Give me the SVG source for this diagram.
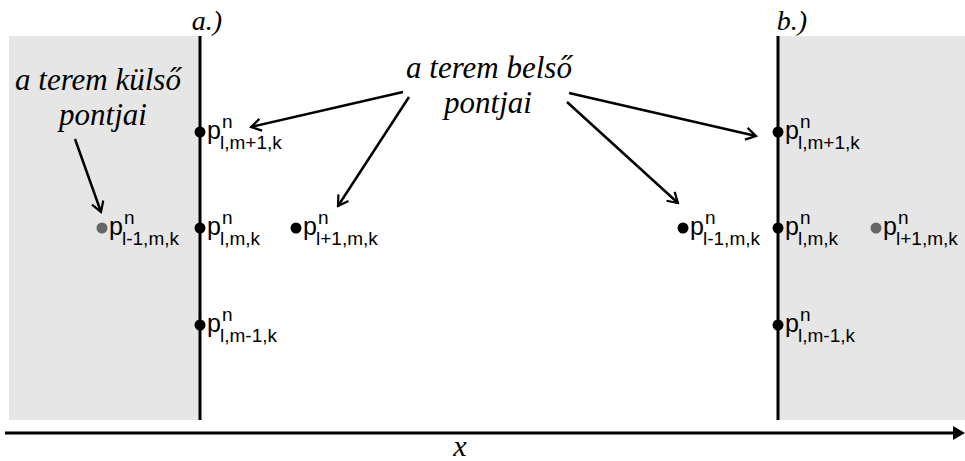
<svg xmlns="http://www.w3.org/2000/svg" width="965" height="461" viewBox="0 0 965 461">
<style>
.bg{fill:#e6e6e6}
.wall{stroke:#000;stroke-width:3}
.it{font-family:'Liberation Serif','Times New Roman','DejaVu Serif',serif;font-style:italic;fill:#000}
.lab{font-family:'Liberation Sans',Arial,sans-serif;fill:#000}
.p{font-size:25px}
.sup{font-size:19px}
.sub{font-size:19px}
.dot{fill:#000}
.gdot{fill:#666}
.con{stroke:#000;stroke-width:2.5;fill:none}
</style>
<defs>
<marker id="vh" markerWidth="14" markerHeight="14" refX="12" refY="7" orient="auto" markerUnits="userSpaceOnUse">
<path d="M2,1 L12,7 L2,13" fill="none" stroke="#000" stroke-width="2.2"/>
</marker>
</defs>
<rect class="bg" x="9" y="36" width="191" height="384"/>
<rect class="bg" x="778" y="36" width="187" height="384"/>
<line class="wall" x1="200" y1="36" x2="200" y2="420"/>
<line class="wall" x1="778" y1="36" x2="778" y2="420"/>
<g id="axis">
<line x1="5" y1="433" x2="954" y2="433" stroke="#000" stroke-width="3"/>
<path d="M953,426 L965,433 L953,440 Z" fill="#000"/>
<text class="it" x="460" y="456" font-size="30" text-anchor="middle">x</text>
</g>
<text class="it" x="207" y="30" font-size="28" text-anchor="middle">a.)</text>
<text class="it" x="792" y="30" font-size="28" text-anchor="middle">b.)</text>
<g id="outer-label">
<text class="it" x="98" y="90" font-size="31" text-anchor="middle">a terem külső</text>
<text class="it" x="103" y="125" font-size="31" text-anchor="middle">pontjai</text>
</g>
<g id="inner-label">
<text class="it" x="489" y="78" font-size="31" text-anchor="middle">a terem belső</text>
<text class="it" x="488" y="113" font-size="31" text-anchor="middle">pontjai</text>
</g>
<g id="a-top"><circle class="dot" cx="200" cy="132" r="5.5"/><text class="lab p" x="207" y="139">p</text><text class="lab sup" x="222" y="128">n</text><text class="lab sub" x="220" y="149">l,m+1,k</text></g>
<g id="a-mid"><circle class="dot" cx="200" cy="228" r="5.5"/><text class="lab p" x="207" y="235">p</text><text class="lab sup" x="222" y="224">n</text><text class="lab sub" x="220" y="245">l,m,k</text></g>
<g id="a-bot"><circle class="dot" cx="200" cy="325" r="5.5"/><text class="lab p" x="207" y="332">p</text><text class="lab sup" x="222" y="321">n</text><text class="lab sub" x="220" y="342">l,m-1,k</text></g>
<g id="a-out"><circle class="gdot" cx="102" cy="228" r="5.5"/><text class="lab p" x="109" y="235">p</text><text class="lab sup" x="124" y="224">n</text><text class="lab sub" x="122" y="245">l-1,m,k</text></g>
<g id="a-in"><circle class="dot" cx="296" cy="228" r="5.5"/><text class="lab p" x="303" y="235">p</text><text class="lab sup" x="318" y="224">n</text><text class="lab sub" x="316" y="245">l+1,m,k</text></g>
<g id="b-top"><circle class="dot" cx="778" cy="132" r="5.5"/><text class="lab p" x="785" y="139">p</text><text class="lab sup" x="800" y="128">n</text><text class="lab sub" x="798" y="149">l,m+1,k</text></g>
<g id="b-mid"><circle class="dot" cx="778" cy="228" r="5.5"/><text class="lab p" x="785" y="235">p</text><text class="lab sup" x="800" y="224">n</text><text class="lab sub" x="798" y="245">l,m,k</text></g>
<g id="b-bot"><circle class="dot" cx="778" cy="325" r="5.5"/><text class="lab p" x="785" y="332">p</text><text class="lab sup" x="800" y="321">n</text><text class="lab sub" x="798" y="342">l,m-1,k</text></g>
<g id="b-in"><circle class="dot" cx="683" cy="228" r="5.5"/><text class="lab p" x="690" y="235">p</text><text class="lab sup" x="705" y="224">n</text><text class="lab sub" x="703" y="245">l-1,m,k</text></g>
<g id="b-out"><circle class="gdot" cx="876" cy="228" r="5.5"/><text class="lab p" x="883" y="235">p</text><text class="lab sup" x="898" y="224">n</text><text class="lab sub" x="896" y="245">l+1,m,k</text></g>
<g id="connectors">
<line class="con" x1="75" y1="139" x2="101" y2="212" marker-end="url(#vh)"/>
<line class="con" x1="403" y1="92" x2="251" y2="127" marker-end="url(#vh)"/>
<line class="con" x1="409" y1="97" x2="338" y2="206" marker-end="url(#vh)"/>
<line class="con" x1="569" y1="93" x2="756" y2="136" marker-end="url(#vh)"/>
<line class="con" x1="567" y1="102" x2="678" y2="203" marker-end="url(#vh)"/>
</g>
</svg>
